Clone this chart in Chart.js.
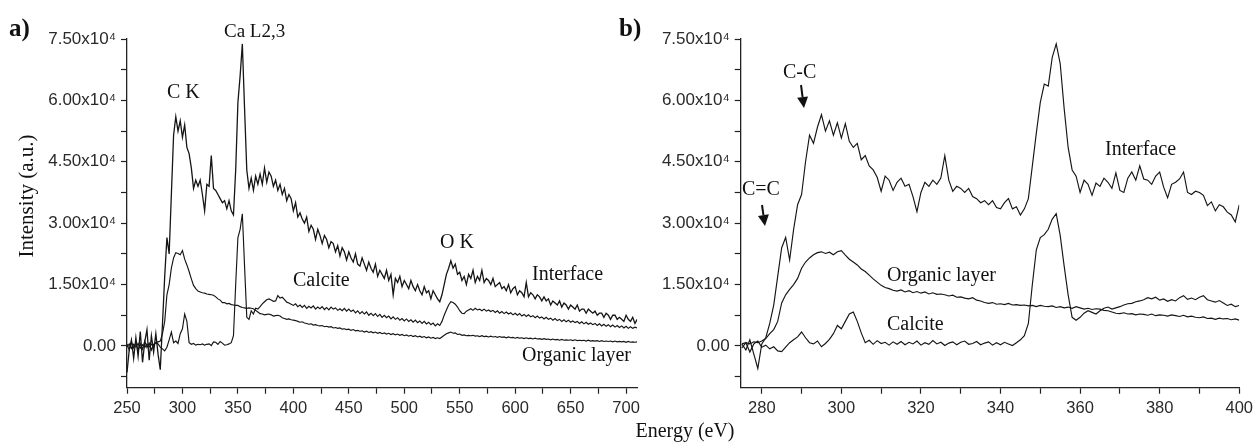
<!DOCTYPE html>
<html><head><meta charset="utf-8">
<script src="https://cdn.jsdelivr.net/npm/chart.js@4.4.0/dist/chart.umd.min.js"></script>
<style>
html,body{margin:0;padding:0;background:#fff;}
#wrap{position:relative;width:1258px;height:443px;overflow:hidden;background:#fff;}
#c1{position:absolute;left:0;top:0;}
#c2{position:absolute;left:600px;top:0;}
</style></head><body>
<div id="wrap">
<canvas id="c1" width="645" height="443"></canvas>
<canvas id="c2" width="658" height="443"></canvas>
</div>
<script>
// ---------- DATA (intensities in units of 1e3 a.u.) ----------
const UNIT = 1000;
// Panel a) : energy grid 250..710 eV, 2 eV step
const leftEnergyStart = 250, leftEnergyStep = 2;
const leftInterface = [
/*250*/ -6.5,-1.0,1.5,-3.0,2.0,-2.5,3.5,-4.0,1.0,4.0,
/*270*/ -3.5,2.5,-1.5,3.0,-2.0,-5.8,5.5,17.0,26.5,22.5,
/*290*/ 37.0,51.5,56.0,52.5,55.0,51.0,54.0,48.5,47.0,43.5,
/*310*/ 38.5,40.5,39.0,40.5,37.0,33.0,39.5,39.0,46.5,38.5,
/*330*/ 38.0,37.0,36.0,35.0,35.5,33.5,35.5,33.0,32.0,43.0,
/*350*/ 59.5,66.0,73.8,58.0,43.0,38.5,41.0,38.0,41.5,39.5,
/*370*/ 42.0,39.5,43.5,40.0,42.5,41.5,39.0,40.5,38.0,39.5,
/*390*/ 37.0,38.5,35.5,37.0,36.0,33.0,35.0,31.5,32.5,31.0,
/*410*/ 30.0,31.5,28.0,29.5,28.5,26.0,28.5,27.0,25.0,27.0,
/*430*/ 26.0,24.0,25.5,25.0,23.0,24.5,22.0,24.0,23.0,21.0,
/*450*/ 23.0,21.5,20.5,22.5,20.0,19.5,21.5,20.0,18.5,20.5,
/*470*/ 19.0,18.0,20.0,17.0,18.5,17.5,16.5,18.5,16.0,17.5,
/*490*/ 12.5,16.5,15.5,17.0,14.5,16.0,15.0,14.0,16.0,14.5,
/*510*/ 13.5,15.0,13.5,12.5,14.5,13.0,13.5,11.5,13.5,12.5,
/*530*/ 11.5,10.8,12.5,15.0,17.5,19.0,20.8,19.0,20.0,17.5,
/*550*/ 18.0,16.0,17.0,15.0,17.5,16.5,18.5,15.5,17.0,16.0,
/*570*/ 18.5,15.5,16.5,16.0,15.0,16.5,14.5,15.0,15.5,14.0,
/*590*/ 14.5,13.5,15.0,13.0,14.0,14.5,12.5,13.5,13.0,12.0,
/*610*/ 15.5,12.0,13.0,12.5,11.5,12.5,12.0,11.0,12.0,11.0,
/*630*/ 11.5,10.0,11.0,10.5,10.0,11.0,9.5,10.5,10.0,9.0,
/*650*/ 10.0,9.5,9.0,10.0,8.5,9.0,9.0,8.0,9.0,8.5,
/*670*/ 8.0,8.5,7.5,8.0,8.0,7.0,8.0,7.5,6.5,7.5,
/*690*/ 7.5,6.5,7.0,6.5,6.0,7.5,6.5,6.0,7.0,5.5,
/*710*/ 6.5
];
const leftCalcite = [
/*250*/ 0.5,-1.0,1.0,-0.5,0.8,-1.2,0.6,-0.8,1.2,-0.4,
/*270*/ 0.7,-1.0,0.4,0.8,0.5,-0.3,-0.7,-1.2,-0.3,1.5,
/*290*/ 3.4,0.8,1.2,0.6,3.0,4.2,7.8,6.0,0.8,0.4,
/*310*/ 0.6,0.2,0.4,0.3,0.5,0.2,0.4,0.5,0.1,1.0,
/*330*/ 0.9,0.4,1.1,0.7,0.2,0.3,0.5,0.8,2.5,15.0,
/*350*/ 26.5,28.5,32.3,19.5,7.0,6.5,8.6,7.8,9.2,9.0,
/*370*/ 9.6,10.3,10.8,11.3,11.5,11.2,10.9,11.0,12.3,11.7,
/*390*/ 11.9,11.3,10.7,10.5,10.2,9.9,10.3,9.6,10.0,9.4,
/*410*/ 9.9,9.2,9.7,9.3,9.8,9.0,9.5,9.1,9.6,8.9,
/*430*/ 9.4,8.8,9.5,9.0,9.3,8.7,9.1,8.6,9.2,8.5,
/*450*/ 9.0,8.4,8.8,8.1,8.6,7.9,8.4,7.8,8.3,7.5,
/*470*/ 8.0,7.4,7.9,7.2,7.7,7.0,7.5,6.9,7.3,6.6,
/*490*/ 7.1,6.5,6.9,6.3,6.7,6.1,6.6,6.0,6.4,5.8,
/*510*/ 6.3,5.7,6.1,5.5,6.0,5.4,5.8,5.2,5.6,4.9,
/*530*/ 5.4,5.0,6.0,7.5,8.8,10.0,10.8,10.6,10.2,9.5,
/*550*/ 8.6,8.0,7.9,8.5,8.8,9.1,8.7,9.2,8.8,9.0,
/*570*/ 8.6,9.0,8.5,8.8,8.4,8.7,8.2,8.6,8.0,8.4,
/*590*/ 7.9,8.3,7.8,8.1,7.6,8.0,7.5,7.9,7.3,7.7,
/*610*/ 7.2,7.6,7.1,7.4,6.9,7.3,6.8,7.1,6.6,7.0,
/*630*/ 6.5,6.8,6.3,6.7,6.2,6.5,6.0,6.4,5.9,6.3,
/*650*/ 5.8,6.1,5.7,6.0,5.5,5.9,5.4,5.8,5.3,5.6,
/*670*/ 5.2,5.5,5.0,5.4,4.9,5.3,4.8,5.2,4.7,5.1,
/*690*/ 4.6,5.0,4.5,4.9,4.4,4.8,4.3,4.7,4.3,4.6,
/*710*/ 4.4
];
const leftOrganic = [
/*250*/ -0.3,0.5,-0.6,0.4,-0.2,0.6,-0.5,0.3,-0.4,0.5,
/*270*/ -0.2,0.4,0.1,0.8,1.0,1.2,3.0,6.0,12.5,15.0,
/*290*/ 19.0,21.5,22.8,22.6,22.3,23.3,21.2,19.8,18.2,16.4,
/*310*/ 14.8,14.0,13.4,13.2,13.0,12.9,12.7,12.6,12.5,12.4,
/*330*/ 12.0,11.5,11.2,10.6,10.6,10.3,10.4,10.1,10.0,9.9,
/*350*/ 9.9,9.6,9.4,9.3,9.2,9.3,9.2,9.1,8.7,8.3,
/*370*/ 7.9,7.8,7.6,7.7,7.8,7.6,7.3,7.4,7.5,7.3,
/*390*/ 6.9,6.7,6.5,6.6,6.4,6.3,6.2,6.0,5.8,5.9,
/*410*/ 5.6,5.5,5.3,5.4,5.1,5.2,5.0,4.9,5.0,4.7,
/*430*/ 4.8,4.6,4.7,4.4,4.5,4.3,4.4,4.1,4.2,4.0,
/*450*/ 4.1,3.8,4.0,3.7,3.8,3.6,3.7,3.4,3.6,3.3,
/*470*/ 3.5,3.2,3.4,3.1,3.3,3.0,3.2,2.9,3.1,2.8,
/*490*/ 3.0,2.7,2.9,2.6,2.8,2.5,2.7,2.4,2.6,2.3,
/*510*/ 2.5,2.2,2.4,2.1,2.3,2.0,2.2,1.9,2.1,1.8,
/*530*/ 2.0,1.8,2.2,2.6,3.0,3.2,3.4,3.1,3.2,2.8,
/*550*/ 2.9,2.6,2.7,2.5,2.6,2.5,2.6,2.4,2.5,2.3,
/*570*/ 2.5,2.3,2.4,2.2,2.4,2.2,2.3,2.1,2.3,2.1,
/*590*/ 2.2,2.0,2.2,2.0,2.1,1.9,2.1,1.9,2.0,1.8,
/*610*/ 2.0,1.8,1.9,1.7,1.9,1.7,1.8,1.6,1.8,1.6,
/*630*/ 1.7,1.5,1.7,1.5,1.6,1.4,1.6,1.4,1.5,1.4,
/*650*/ 1.5,1.3,1.5,1.3,1.4,1.3,1.4,1.2,1.4,1.2,
/*670*/ 1.3,1.2,1.3,1.1,1.3,1.1,1.2,1.1,1.2,1.0,
/*690*/ 1.2,1.0,1.1,1.0,1.1,0.9,1.1,0.9,1.0,0.9,
/*710*/ 1.0
];
// Panel b) : energy grid 275..400 eV, 1 eV step
const rightEnergyStart = 275, rightEnergyStep = 1;
const rightInterface = [
/*275*/ 0.5,-1.0,1.5,-2.0,-5.5,0.5,2.0,5.5,10.0,17.0,
/*285*/ 24.0,26.5,21.0,28.5,34.5,37.0,45.0,51.5,49.5,53.5,
/*295*/ 56.5,52.5,55.0,51.5,54.5,50.8,54.3,50.0,48.5,49.5,
/*305*/ 45.5,46.5,44.0,43.0,41.2,37.8,41.5,40.5,38.0,40.0,
/*315*/ 41.0,39.0,39.5,36.5,32.8,37.5,40.0,39.0,40.5,39.5,
/*325*/ 41.0,46.5,40.5,37.8,39.0,38.5,37.5,38.5,36.5,36.0,
/*335*/ 35.0,35.5,34.5,35.5,33.8,33.5,35.0,36.0,33.5,34.0,
/*345*/ 32.0,33.5,36.0,44.0,52.0,59.5,64.0,63.5,70.5,73.8,
/*355*/ 69.0,58.0,48.5,43.0,41.5,37.5,40.5,39.5,36.8,39.8,
/*365*/ 39.0,41.0,40.0,38.5,42.3,38.0,37.5,41.0,42.5,40.5,
/*375*/ 44.0,40.8,40.5,39.5,41.5,42.5,38.8,36.2,39.5,40.0,
/*385*/ 40.8,42.5,37.5,37.0,37.8,37.5,36.8,34.3,35.2,33.0,
/*395*/ 34.5,34.0,32.7,32.0,30.3,34.5
];
const rightOrganic = [
/*275*/ 0.5,0.8,0.5,1.0,0.8,1.2,1.8,3.0,4.0,6.0,
/*285*/ 10.5,12.5,13.8,15.0,16.5,19.0,20.5,21.5,22.3,22.8,
/*295*/ 23.0,22.6,22.9,22.3,23.0,23.3,22.2,21.2,20.5,19.8,
/*305*/ 18.8,18.2,17.3,16.4,15.6,14.8,14.3,14.0,13.6,13.4,
/*315*/ 13.7,13.2,13.5,13.0,13.3,12.9,13.2,12.7,13.0,12.6,
/*325*/ 12.7,12.5,12.2,12.4,11.9,12.0,11.7,11.5,11.8,11.2,
/*335*/ 11.0,10.6,10.4,10.6,10.2,10.3,10.1,10.4,10.0,10.1,
/*345*/ 9.9,10.0,9.8,9.9,9.6,9.9,9.7,9.6,9.8,9.4,
/*355*/ 9.6,9.3,9.5,9.2,9.6,9.3,9.0,9.2,8.9,9.1,
/*365*/ 9.0,8.7,8.6,8.3,8.0,7.9,8.1,7.8,7.9,7.6,
/*375*/ 7.8,7.7,7.5,7.8,7.4,7.6,7.5,7.3,7.6,7.4,
/*385*/ 7.2,7.5,7.1,7.3,7.0,6.9,7.1,6.7,6.8,6.5,
/*395*/ 6.8,6.6,6.7,6.4,6.6,6.3
];
const rightCalcite = [
/*275*/ -0.5,0.8,-1.5,0.5,1.2,-0.3,0.2,-0.7,-0.2,-1.2,
/*285*/ -1.4,-0.3,0.8,1.5,2.2,3.4,2.0,0.8,0.5,1.2,
/*295*/ -0.2,0.6,1.6,3.0,5.0,4.2,6.0,7.8,8.3,6.0,
/*305*/ 3.2,0.8,1.4,0.4,1.3,0.6,0.9,0.2,1.0,0.4,
/*315*/ 1.1,0.3,0.9,0.5,1.2,0.2,0.8,0.4,1.3,0.5,
/*325*/ 0.9,0.1,0.7,1.0,0.3,0.9,1.2,0.4,0.6,1.1,
/*335*/ 0.3,0.7,1.0,0.2,0.8,0.3,0.9,0.5,0.1,0.8,
/*345*/ 1.5,2.5,5.5,15.0,23.5,26.5,27.2,28.5,31.0,32.3,
/*355*/ 27.0,19.5,12.5,7.0,6.3,7.0,8.0,8.6,8.2,7.8,
/*365*/ 8.6,9.2,9.5,9.0,9.3,9.6,10.0,10.3,10.4,10.8,
/*375*/ 11.0,11.3,11.8,11.5,11.9,11.2,11.5,10.9,11.3,11.0,
/*385*/ 11.8,12.3,11.4,11.7,11.3,11.9,12.3,11.3,11.0,10.7,
/*395*/ 11.1,10.5,9.9,10.2,9.6,9.9
];
// Axis ticks
const leftXTicks = [250,275,300,325,350,375,400,425,450,475,500,525,550,575,600,625,650,675,700];
const rightXTicks = [280,290,300,310,320,330,340,350,360,370,380,390,400];
const yTicks = [-7500,0,7500,15000,22500,30000,37500,45000,52500,60000,67500,75000];
const yLabelStep = 15000;

// ---------- helpers ----------
function toXY(vals, start, step){ return vals.map((v,i)=>({x:start+i*step, y:v*UNIT})); }
function yFmt(v){ if (v % yLabelStep !== 0) return ''; if (v===0) return '0.00'; return (v/1e4).toFixed(2)+'x10\u2074'; }
const INK = '#151515';
const sans = '"Liberation Sans", Arial, sans-serif';

function annotPlugin(id, offX, texts, arrows){
  return {id, afterDraw(chart){
    const ctx = chart.ctx; ctx.save(); ctx.fillStyle = '#111'; ctx.strokeStyle = '#111';
    texts.forEach(t=>{
      ctx.font = t.font; ctx.textBaseline = 'alphabetic';
      if (t.rot){ ctx.save(); ctx.translate(t.x-offX, t.y); ctx.rotate(-Math.PI/2); ctx.textAlign='center'; ctx.fillText(t.text,0,0); ctx.restore(); }
      else { ctx.textAlign = t.align || 'left'; ctx.fillText(t.text, t.x-offX, t.y); }
    });
    arrows.forEach(a=>{
      const x1=a.x1-offX, x2=a.x2-offX, ang=Math.atan2(a.y2-a.y1, x2-x1), hl=11, hw=5.5;
      const bx = x2 - hl*Math.cos(ang), by = a.y2 - hl*Math.sin(ang);
      ctx.lineWidth = 2; ctx.beginPath(); ctx.moveTo(x1,a.y1); ctx.lineTo(bx,by); ctx.stroke();
      ctx.beginPath(); ctx.moveTo(x2,a.y2);
      ctx.lineTo(bx + hw*Math.sin(ang), by - hw*Math.cos(ang));
      ctx.lineTo(bx - hw*Math.sin(ang), by + hw*Math.cos(ang));
      ctx.closePath(); ctx.fill();
    });
    ctx.restore();
  }};
}

function makeChart(canvasId, sets, xmin, xmax, xTicks, xLabelStep, yAxisWidth, padRight, plugin){
  const ds = sets.map(s=>({label:s.label, data:s.data, borderColor:INK, borderWidth:s.w, pointRadius:0, tension:0, fill:false}));
  return new Chart(document.getElementById(canvasId), {
    type:'line',
    data:{datasets:ds},
    options:{
      responsive:false, animation:false, devicePixelRatio:1,
      layout:{padding:{top:39, right:padRight, left:0, bottom:0}},
      plugins:{legend:{display:false}, tooltip:{enabled:false}},
      scales:{
        x:{type:'linear', min:xmin, max:xmax,
          afterBuildTicks: ax=>{ ax.ticks = xTicks.map(v=>({value:v})); },
          afterFit: sc=>{ sc.height = 55.3; },
          ticks:{autoSkip:false, maxRotation:0, color:'#2a2a2a', font:{family:sans, size:16.5}, padding:5,
            callback: v => (v % xLabelStep === 0 ? String(v) : '')},
          grid:{display:true, drawOnChartArea:false, drawTicks:true, tickLength:6, tickColor:'#222', tickWidth:1.2},
          border:{display:true, color:'#222', width:1.3}
        },
        y:{type:'linear', min:-10200, max:75000,
          afterBuildTicks: ax=>{ ax.ticks = yTicks.map(v=>({value:v})); },
          afterFit: sc=>{ sc.width = yAxisWidth; },
          ticks:{autoSkip:false, color:'#2a2a2a', font:{family:sans, size:17}, padding:5, callback: v => yFmt(v)},
          grid:{display:true, drawOnChartArea:false, drawTicks:true, tickLength:6, tickColor:'#222', tickWidth:1.2},
          border:{display:true, color:'#222', width:1.3}
        }
      }
    },
    plugins:[plugin]
  });
}

const serif = '"Liberation Serif", "Times New Roman", serif';
const leftPlugin = annotPlugin('annA', 0, [
  {text:'a)', x:9, y:36, font:'bold 25px '+serif},
  {text:'Intensity (a.u.)', x:33, y:196, font:'21px '+serif, rot:true},
  {text:'C K', x:167, y:98, font:'20px '+serif},
  {text:'Ca L2,3', x:224, y:37, font:'19px '+serif},
  {text:'Calcite', x:293, y:286, font:'20px '+serif},
  {text:'O K', x:440, y:248, font:'20px '+serif},
  {text:'Interface', x:532, y:280, font:'20px '+serif},
  {text:'Organic layer', x:522, y:361, font:'20px '+serif}
], []);
const rightPlugin = annotPlugin('annB', 600, [
  {text:'b)', x:619, y:36, font:'bold 25px '+serif},
  {text:'C-C', x:783, y:78, font:'20px '+serif},
  {text:'C=C', x:742, y:195, font:'20px '+serif},
  {text:'Interface', x:1105, y:155, font:'20px '+serif},
  {text:'Organic layer', x:887, y:281, font:'20px '+serif},
  {text:'Calcite', x:887, y:330, font:'20px '+serif},
  {text:'Energy (eV)', x:685, y:437, font:'20px '+serif, align:'center'}
], [
  {x1:801, y1:85, x2:804, y2:108},
  {x1:762, y1:205, x2:765, y2:226}
]);

makeChart('c1', [
  {label:'Interface', w:1.3, data:toXY(leftInterface, leftEnergyStart, leftEnergyStep)},
  {label:'Calcite', w:1.15, data:toXY(leftCalcite, leftEnergyStart, leftEnergyStep)},
  {label:'Organic layer', w:1.15, data:toXY(leftOrganic, leftEnergyStart, leftEnergyStep)}
], 250, 710, leftXTicks, 50, 127, 7.3, leftPlugin);

makeChart('c2', [
  {label:'Interface', w:1.15, data:toXY(rightInterface, rightEnergyStart, rightEnergyStep)},
  {label:'Organic layer', w:1.15, data:toXY(rightOrganic, rightEnergyStart, rightEnergyStep)},
  {label:'Calcite', w:1.15, data:toXY(rightCalcite, rightEnergyStart, rightEnergyStep)}
], 274.7, 400, rightXTicks, 20, 140.7, 17, rightPlugin);
</script>
</body></html>
